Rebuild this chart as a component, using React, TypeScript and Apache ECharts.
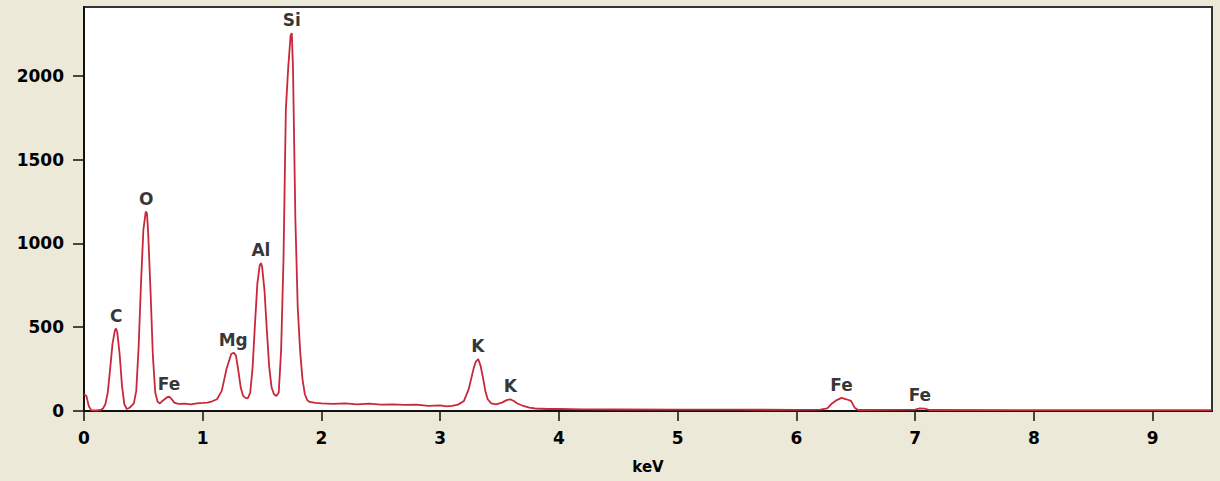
import React, { useEffect, useRef } from "react";
import * as echarts from "echarts";

// Spectrum readings (energy in keV, counts)
const energyKeV = [
  0.0, 0.02, 0.04, 0.06, 0.1, 0.14, 0.16, 0.18, 0.2, 0.22, 0.24, 0.26, 0.27, 0.28, 0.3, 0.32, 0.34,
  0.36, 0.38, 0.4, 0.42, 0.44, 0.46, 0.48, 0.5, 0.52, 0.53, 0.54, 0.56, 0.58, 0.6, 0.62, 0.64, 0.66,
  0.7, 0.72, 0.74, 0.76, 0.78, 0.8, 0.85, 0.9, 0.95, 1.0, 1.04, 1.08, 1.12, 1.16, 1.2, 1.24, 1.26,
  1.28, 1.3, 1.32, 1.34, 1.36, 1.38, 1.4, 1.42, 1.44, 1.46, 1.48, 1.49, 1.5, 1.52, 1.54, 1.56, 1.58,
  1.6, 1.62, 1.64, 1.66, 1.68, 1.7, 1.72, 1.74, 1.75, 1.76, 1.78, 1.8, 1.82, 1.84, 1.86, 1.88, 1.9,
  1.95, 2.0, 2.1, 2.2, 2.3, 2.4, 2.5, 2.6, 2.7, 2.8, 2.9, 3.0, 3.05, 3.1, 3.15, 3.2, 3.24, 3.28, 3.3,
  3.32, 3.34, 3.36, 3.38, 3.4, 3.43, 3.47, 3.52, 3.56, 3.59, 3.62, 3.65, 3.7, 3.75, 3.8, 3.9, 4.0,
  4.2, 4.5, 5.0, 5.5, 6.0, 6.2, 6.26, 6.3, 6.34, 6.38, 6.42, 6.46, 6.49, 6.52, 7.0, 7.04, 7.08, 7.12,
  8.0, 9.0, 9.5,
];
const counts = [
  100, 90, 30, 5, 3, 6, 15, 40, 110, 250, 400, 480, 492, 470, 340, 150, 40,
  12, 18, 30, 45, 120, 380, 760, 1080, 1190, 1180, 1070, 720, 330, 110, 55, 45, 60,
  82, 85, 70, 50, 45, 42, 44, 40, 46, 48, 50, 58, 70, 120, 250, 340, 348,
  330, 240, 140, 90, 78, 76, 110, 260, 520, 760, 870, 882, 860, 720, 480, 260, 140,
  100, 90, 110, 360, 900, 1800, 2050, 2240, 2254, 2050, 1150, 620, 360, 190, 100, 65, 54,
  48, 45, 42, 46, 40, 44, 38, 40, 36, 38, 30, 34, 28, 30, 38, 60, 130, 250, 295,
  310, 270, 200, 120, 70, 45, 40, 50, 65, 70, 60, 45, 30, 20, 15, 12, 12,
  10, 9, 8, 8, 7, 8, 15, 45, 65, 78, 70, 60, 20, 6, 8, 15, 14, 6,
  5, 5, 5,
];

// Peak annotations
const peakNames = ["C", "O", "Fe", "Mg", "Al", "Si", "K", "K", "Fe", "Fe"];
const peakKeV = [0.272, 0.525, 0.716, 1.257, 1.49, 1.749, 3.316, 3.59, 6.38, 7.04];
const peakCounts = [492, 1190, 85, 348, 882, 2254, 310, 70, 78, 15];

const xTicks = [0, 1, 2, 3, 4, 5, 6, 7, 8, 9];
const yTicks = [0, 500, 1000, 1500, 2000];

export default function App() {
  const ref = useRef<HTMLDivElement>(null);
  useEffect(() => {
    if (!ref.current) return;
    const chart = echarts.init(ref.current, undefined, { renderer: "svg" });
    const font = "'DejaVu Sans', Verdana, sans-serif";
    chart.setOption({
      animation: false,
      backgroundColor: "#ECE9D8",
      grid: {
        left: 84,
        right: 8,
        top: 7,
        bottom: 70,
        show: true,
        backgroundColor: "#ffffff",
        borderColor: "#333333",
        borderWidth: 2,
      },
      xAxis: {
        type: "value",
        min: 0,
        max: 9.5,
        name: "keV",
        nameLocation: "middle",
        nameGap: 48,
        nameTextStyle: { color: "#000", fontFamily: font, fontWeight: "bold", fontSize: 15 },
        axisLine: { show: true, onZero: false, lineStyle: { color: "#111", width: 2 } },
        axisTick: { show: true, length: 10, customValues: xTicks, lineStyle: { color: "#111", width: 1.5 } },
        axisLabel: {
          customValues: xTicks,
          margin: 18,
          color: "#000",
          fontFamily: font,
          fontWeight: "bold",
          fontSize: 17,
          formatter: (v: number) => String(v),
        },
        splitLine: { show: false },
      },
      yAxis: {
        type: "value",
        min: 0,
        max: 2410,
        axisLine: { show: true, lineStyle: { color: "#111", width: 2 } },
        axisTick: { show: true, length: 11, customValues: yTicks, lineStyle: { color: "#111", width: 1.5 } },
        axisLabel: {
          customValues: yTicks,
          margin: 20,
          color: "#000",
          fontFamily: font,
          fontWeight: "bold",
          fontSize: 17,
          formatter: (v: number) => String(v),
        },
        splitLine: { show: false },
      },
      series: [
        {
          type: "line",
          data: energyKeV.map((e, i) => [e, counts[i]]),
          showSymbol: false,
          lineStyle: { color: "#C8283A", width: 1.8 },
          clip: true,
          z: 3,
        },
        {
          type: "scatter",
          data: peakKeV.map((e, i) => ({ value: [e, peakCounts[i]], name: peakNames[i] })),
          symbolSize: 1,
          itemStyle: { color: "rgba(0,0,0,0)" },
          label: {
            show: true,
            position: "top",
            distance: 4,
            formatter: (p: any) => p.name,
            color: "#000",
            fontFamily: font,
            fontWeight: "bold",
            fontSize: 17,
          },
          z: 4,
        },
      ],
    });
    return () => chart.dispose();
  }, []);
  return (
    <div
      ref={ref}
      style={{ position: "fixed", left: 0, top: 0, width: 1220, height: 481 }}
    />
  );
}
